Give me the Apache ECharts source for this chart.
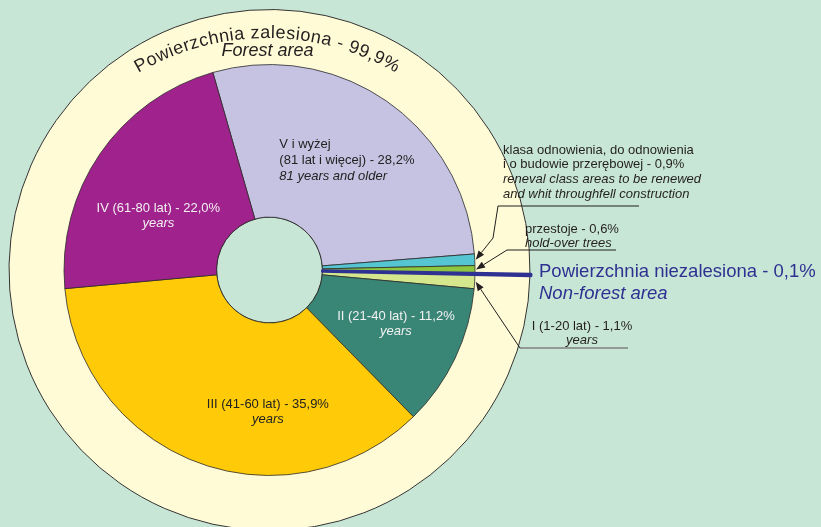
<!DOCTYPE html>
<html>
<head>
<meta charset="utf-8">
<script src="https://cdn.jsdelivr.net/npm/echarts@6/dist/echarts.min.js"></script>
<style>
  html, body { margin: 0; padding: 0; background: #c8e6d5; }
  #pie { width: 821px; height: 527px; }
</style>
</head>
<body>
<div id="pie"></div>
<script>
// age classes, clockwise from the top-left edge of class V
const categories = [
  'V i wyżej\n(81 lat i więcej)',
  'klasa odnowienia, do odnowienia\ni o budowie przerębowej',
  'przestoje',
  'Powierzchnia niezalesiona',
  'I (1-20 lat)',
  'II (21-40 lat)',
  'III (41-60 lat)',
  'IV (61-80 lat)'
];
const englishNames = [
  '81 years and older',
  'reneval class areas to be renewed\nand whit throughfell construction',
  'hold-over trees',
  'Non-forest area',
  'years',
  'years',
  'years',
  'years'
];
const shares = [28.2, 0.9, 0.6, 0.1, 1.1, 11.2, 35.9, 22.0];

// outer ring
const ringNames = ['Powierzchnia niezalesiona', 'Powierzchnia zalesiona'];
const ringEnglish = ['Non-forest area', 'Forest area'];
const ringShares = [0.1, 99.9];

const FONT = '"Liberation Sans", Arial, sans-serif';
const CX = 269.5, CY = 270, R0 = 53, R1 = 205.5, R2 = 260.5;
const START = 106;
const BLUE = '#2e3192';
const colors = ['#c6c3e2', '#56c5d2', '#8dc63f', BLUE, '#d5e78c', '#3a8676', '#ffca08', '#a0228c'];
const labelColors = ['#222', null, null, null, null, '#f2f2f2', '#222', '#f2f2f2'];
const labelShift = [[2, -1], null, null, null, null, [7, -3], [44, 18], [-2, 21]];

const pct = v => v.toFixed(1).replace('.', ',') + '%';
const total = shares.reduce((a, b) => a + b, 0);
const sliceStart = i => START - 360 * shares.slice(0, i).reduce((a, b) => a + b, 0) / total;
const sliceMid = i => sliceStart(i) - 180 * shares[i] / total;
const ringStart = sliceStart(categories.indexOf(ringNames[0]));

function edgePoint(i, r) {
  const a = sliceMid(i) * Math.PI / 180;
  return [CX + r * Math.cos(a), CY - r * Math.sin(a)];
}

function insideLabel(i) {
  const lines = categories[i].split('\n');
  lines[lines.length - 1] += ' - ' + pct(shares[i]);
  const align = i === 0 ? 'left' : 'center';
  const lh = i === 0 ? 16 : 15;
  return {
    show: true,
    position: 'inside',
    formatter: lines.map(l => '{t|' + l + '}').join('\n') + '\n{e|' + englishNames[i] + '}',
    rich: {
      t: { color: labelColors[i], fontSize: 13, fontFamily: FONT, lineHeight: lh, align: align },
      e: { color: labelColors[i], fontSize: 13, fontFamily: FONT, fontStyle: 'italic', lineHeight: lh, align: align }
    }
  };
}

// text blocks beside the ring
function textBlock(i, x, y, lh, opts) {
  const lines = categories[i].split('\n');
  lines[lines.length - 1] += ' - ' + pct(shares[i]);
  const all = lines.map(t => [t, false]).concat(englishNames[i].split('\n').map(t => [t, true]));
  return all.map((ln, k) => ({
    type: 'text', x: x, y: y + k * lh, silent: true,
    style: {
      text: ln[0], fill: opts.color || '#231f20',
      font: (ln[1] ? 'italic ' : '') + (opts.size || 13) + 'px ' + FONT,
      align: opts.align || 'left', textAlign: opts.align || 'left',
      verticalAlign: 'middle', textVerticalAlign: 'middle'
    }
  }));
}

function leader(points, tipIdx) {
  const tip = edgePoint(tipIdx, R1 + 1);
  const pts = points.concat([tip]);
  const p = pts[pts.length - 2];
  const dx = tip[0] - p[0], dy = tip[1] - p[1];
  const len = Math.hypot(dx, dy), ux = dx / len, uy = dy / len;
  const bx = tip[0] - ux * 9, by = tip[1] - uy * 9;
  return [
    { type: 'polyline', silent: true, shape: { points: pts.slice(0, -1).concat([[bx, by]]) },
      style: { stroke: '#231f20', lineWidth: 1, fill: null } },
    { type: 'polygon', silent: true,
      shape: { points: [tip, [bx - uy * 3.5, by + ux * 3.5], [bx + uy * 3.5, by - ux * 3.5]] },
      style: { fill: '#231f20' } }
  ];
}

function arcTitle(text, size, cx, cy, r, spanDeg) {
  const font = size + 'px ' + FONT;
  const ctx = document.createElement('canvas').getContext('2d');
  ctx.font = font;
  const chars = [...text];
  const widths = chars.map(c => ctx.measureText(c).width);
  const sum = widths.reduce((a, b) => a + b, 0);
  const L = r * spanDeg * Math.PI / 180;
  const gap = (L - sum) / (chars.length - 1);
  let s = -L / 2;
  return chars.map((c, k) => {
    const mid = s + widths[k] / 2;
    s += widths[k] + gap;
    const a = mid / r, rm = r + size * 0.33;
    return {
      type: 'text', silent: true,
      x: cx + rm * Math.sin(a), y: cy - rm * Math.cos(a), rotation: -a,
      style: { text: c, font: font, fill: '#231f20', align: 'center', textAlign: 'center',
               verticalAlign: 'middle', textVerticalAlign: 'middle' }
    };
  });
}

const iKl = 1, iPrz = 2, iNon = 3, iI = 4;
const graphics = [].concat(
  arcTitle(ringNames[1] + ' - ' + pct(ringShares[1]), 18, 267, 294, 255, 60.4),
  [{ type: 'text', x: 267.5, y: 51, silent: true,
     style: { text: ringEnglish[1], font: 'italic 18px ' + FONT, fill: '#231f20',
              align: 'center', textAlign: 'center', verticalAlign: 'middle', textVerticalAlign: 'middle' } }],
  textBlock(iKl, 503, 150, 14.7, {}),
  [{ type: 'polyline', silent: true, shape: { points: [[498, 206], [639, 206]] }, style: { stroke: '#231f20', lineWidth: 1 } }],
  leader([[498, 206], [493, 238]], iKl),
  textBlock(iPrz, 525, 229.5, 14, {}),
  [{ type: 'polyline', silent: true, shape: { points: [[507, 250], [616, 250]] }, style: { stroke: '#231f20', lineWidth: 1 } }],
  leader([[507, 250]], iPrz),
  textBlock(iNon, 539, 271.5, 22, { size: 18.5, color: BLUE }),
  textBlock(iI, 582, 326, 14, { align: 'center' }),
  [{ type: 'polyline', silent: true, shape: { points: [[520, 348], [628, 348]] }, style: { stroke: '#808080', lineWidth: 1.5 } }],
  leader([[520, 348]], iI)
).map(g => Object.assign({ z: 100 }, g));

const chart = echarts.init(document.getElementById('pie'));
chart.setOption({
  animation: false,
  backgroundColor: '#c8e6d5',
  series: [
    {
      type: 'pie', silent: true, center: [CX, CY], radius: [R0, R2],
      startAngle: ringStart, label: { show: false }, labelLine: { show: false },
      data: ringShares.map((v, i) => ({
        name: ringNames[i], value: v,
        itemStyle: { color: i === 0 ? BLUE : '#fffbd6', borderColor: '#333', borderWidth: 1 }
      }))
    },
    {
      type: 'pie', silent: true, center: [CX, CY], radius: [R0, R1],
      startAngle: START, avoidLabelOverlap: false, labelLine: { show: false },
      itemStyle: { borderColor: '#2b2b2b', borderWidth: 0.8 },
      labelLayout: p => {
        const s = labelShift[p.dataIndex];
        return s ? { dx: s[0], dy: s[1] } : {};
      },
      data: shares.map((v, i) => ({
        name: categories[i], value: v,
        itemStyle: { color: colors[i] },
        label: labelColors[i] ? insideLabel(i) : { show: false }
      }))
    },
    {
      // the non-forest share, drawn as a thick blue spoke across both rings
      type: 'pie', silent: true, center: [CX, CY], radius: [R0, R2 + 1],
      startAngle: ringStart, label: { show: false }, labelLine: { show: false },
      data: ringShares.map((v, i) => ({
        name: ringNames[i], value: v,
        itemStyle: i === 0
          ? { color: BLUE, borderColor: BLUE, borderWidth: 3 }
          : { color: 'rgba(0,0,0,0)', borderWidth: 0 }
      }))
    }
  ],
  graphic: graphics
});
</script>
</body>
</html>
